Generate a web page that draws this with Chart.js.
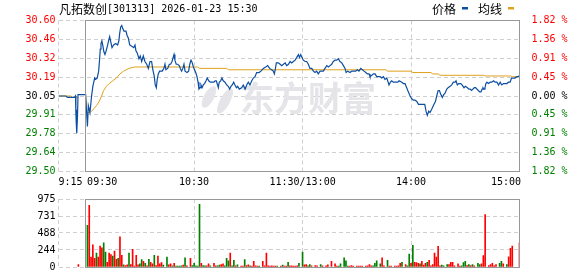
<!DOCTYPE html>
<html>
<head>
<meta charset="utf-8">
<script src="https://cdn.jsdelivr.net/npm/chart.js@4.4.1/dist/chart.umd.min.js"></script>
<style>
  html, body { margin: 0; padding: 0; background: #fff; }
  #wrap { position: relative; width: 578px; height: 276px; overflow: hidden; }
  canvas { position: absolute; left: 0; }
  #price { top: 0; }
  #vol { top: 190px; }
</style>
</head>
<body>
<div id="wrap">
  <canvas id="price" width="578" height="190"></canvas>
  <canvas id="vol" width="578" height="86"></canvas>
</div>
<script>
// ---- data (minutes from 09:30, lunch break removed; 9:15 auction = -15) ----
var stockName = '凡拓数创';
var stockInfo = '[301313] 2026-01-23 15:30';
var prevClose = 30.05;
var limitPct = 1.82;

var priceTimes = [
  -15, -11, -10, -6, -5.6, -5.4, -5.2, -5.0, -4.8, -4.5,
  -4.2, 0, 0.5, 1, 1.5, 2.4, 3.3, 4, 5, 5.5,
  6.4, 7.2, 7.7, 8.1, 8.5, 9, 9.6, 10.1, 10.7, 11.2,
  12, 12.7, 13.3, 13.8, 14.6, 15.5, 16.6, 17.7, 18.4, 18.8,
  19.4, 20, 20.5, 21.2, 22.3, 22.9, 23.6, 24.4, 25.5, 26.6,
  27.3, 27.8, 28.6, 29.5, 30.2, 31, 31.9, 32.8, 33.8, 34.7,
  35.6, 36.5, 37.2, 38, 38.5, 39.1, 39.6, 40.2, 40.9, 42.4,
  43.3, 43.9, 44.4, 45.4, 46.3, 47, 47.8, 48.9, 49.4, 50.1,
  50.9, 51.8, 52.4, 53.1, 53.8, 54.4, 55, 56.1, 57, 57.6,
  58.3, 59, 59.6, 60.9, 61.6, 62.2, 62.7, 63.3, 63.8, 64.4,
  65.1, 65.8, 66.6, 67.3, 68.1, 69, 71, 71.6, 72.3, 73,
  73.4, 73.9, 74.7, 75.4, 76.1, 77.1, 78, 78.9, 79.7, 80.4,
  81.1, 81.9, 82.6, 83.4, 84.1, 85, 86.3, 87.2, 88.2, 89.1,
  90, 90.9, 91.9, 92.8, 93.7, 94.6, 95.9, 97, 98.3, 99.6,
  100.7, 101.8, 102.9, 103.8, 104.4, 105, 105.5, 106.6, 107.6, 108.5,
  109.4, 110.4, 111.2, 112.2, 113.1, 114, 114.9, 115.9, 116.8, 117.7,
  118.3, 119, 119.6, 120.4, 121.4, 122.3, 123.2, 124.1, 125.1, 126,
  126.9, 127.8, 128.7, 129.7, 130.6, 131.5, 132.4, 133.4, 134.3, 135.2,
  136.1, 137, 138, 138.9, 139.8, 140.7, 141.7, 142.6, 143.5, 144.1,
  145, 146.3, 147.2, 148.1, 149.4, 150.3, 151.2, 152.2, 153.1, 154,
  155, 155.8, 156.8, 157.3, 158.3, 159.2, 160.1, 161, 161.9, 162.9,
  163.8, 164.7, 165.6, 166.6, 167.1, 167.8, 168.6, 169.3, 170.2, 172.7,
  173.4, 174.9, 175.8, 176.7, 177.6, 178.5, 179.5, 180.4, 181.3, 182.2,
  183.2, 184.1, 185, 187.6, 188.3, 189, 189.8, 190.5, 191.3, 192,
  192.7, 193.5, 194.2, 195, 195.7, 196.5, 197.3, 198.1, 198.8, 199.8,
  200.5, 201.6, 202.5, 203.4, 204.4, 204.9, 205.6, 206.4, 207.5, 208.2,
  209.3, 210.1, 211.2, 212, 212.7, 213.5, 214.2, 215, 215.7, 216.5,
  217.2, 218, 218.7, 219.3, 219.8, 220.4, 220.9, 221.4, 222, 222.8,
  223.8, 224.7, 225.6, 226.5, 227.5, 228.4, 229.3, 230.2, 231.1, 233,
  233.9, 234.8, 235.6, 236.4, 237.5, 238.6, 239.5, 240
];
var prices = [
  30.05, 30.05, 30.04, 30.04, 30.05, 29.93, 29.86, 29.95, 29.78, 29.90,
  30.06, 30.06, 29.94, 29.83, 29.98, 29.93, 30.05, 30.12, 30.18, 30.17,
  30.18, 30.23, 30.31, 30.39, 30.43, 30.45, 30.41, 30.37, 30.35, 30.37,
  30.41, 30.45, 30.48, 30.45, 30.40, 30.42, 30.43, 30.42, 30.45, 30.50,
  30.55, 30.56, 30.54, 30.52, 30.52, 30.49, 30.47, 30.42, 30.41, 30.40,
  30.42, 30.38, 30.36, 30.32, 30.34, 30.30, 30.34, 30.30, 30.28, 30.25,
  30.30, 30.30, 30.24, 30.19, 30.13, 30.11, 30.17, 30.21, 30.23, 30.23,
  30.25, 30.28, 30.24, 30.25, 30.28, 30.28, 30.30, 30.35, 30.31, 30.28,
  30.28, 30.27, 30.25, 30.23, 30.25, 30.28, 30.23, 30.22, 30.23, 30.28,
  30.31, 30.29, 30.26, 30.22, 30.19, 30.15, 30.10, 30.11, 30.13, 30.11,
  30.13, 30.14, 30.16, 30.18, 30.16, 30.15, 30.15, 30.16, 30.16, 30.13,
  30.11, 30.15, 30.16, 30.18, 30.16, 30.15, 30.13, 30.12, 30.10, 30.12,
  30.13, 30.15, 30.13, 30.11, 30.12, 30.10, 30.11, 30.13, 30.10, 30.13,
  30.15, 30.13, 30.16, 30.18, 30.19, 30.22, 30.22, 30.23, 30.25, 30.26,
  30.27, 30.25, 30.24, 30.23, 30.21, 30.25, 30.29, 30.29, 30.28, 30.27,
  30.28, 30.29, 30.27, 30.28, 30.30, 30.29, 30.30, 30.31, 30.33, 30.35,
  30.33, 30.35, 30.33, 30.31, 30.30, 30.30, 30.28, 30.25, 30.25, 30.23,
  30.22, 30.23, 30.21, 30.23, 30.23, 30.23, 30.25, 30.27, 30.26, 30.27,
  30.28, 30.30, 30.31, 30.31, 30.32, 30.30, 30.29, 30.27, 30.25, 30.22,
  30.23, 30.22, 30.23, 30.23, 30.23, 30.24, 30.23, 30.25, 30.24, 30.23,
  30.22, 30.21, 30.21, 30.19, 30.20, 30.21, 30.21, 30.19, 30.19, 30.19,
  30.18, 30.19, 30.17, 30.18, 30.16, 30.13, 30.15, 30.16, 30.15, 30.15,
  30.16, 30.15, 30.14, 30.14, 30.11, 30.08, 30.05, 30.03, 30.02, 30.02,
  30.01, 29.99, 29.99, 29.99, 29.94, 29.91, 29.94, 29.93, 29.95, 29.97,
  29.99, 30.01, 30.05, 30.09, 30.09, 30.06, 30.04, 30.06, 30.07, 30.10,
  30.11, 30.12, 30.13, 30.15, 30.15, 30.16, 30.13, 30.14, 30.14, 30.13,
  30.11, 30.12, 30.11, 30.10, 30.10, 30.09, 30.10, 30.11, 30.11, 30.10,
  30.09, 30.08, 30.08, 30.10, 30.11, 30.10, 30.11, 30.14, 30.15, 30.14,
  30.15, 30.15, 30.16, 30.15, 30.15, 30.13, 30.15, 30.13, 30.14, 30.14,
  30.15, 30.15, 30.18, 30.18, 30.18, 30.19, 30.19, 30.20
];

var avgTimes = [
  -15, -8, -7.5, -4.2, -4.1, 0, 0.7, 2.5, 4, 6,
  7.5, 8.8, 10, 11.5, 13, 15, 17, 19, 21, 24,
  27, 62, 63, 78, 79, 166, 167, 180, 181, 191,
  192, 195, 196, 220, 221, 235, 236, 240
];
var avgPrices = [
  30.05, 30.05, 30.04, 30.04, null, 30.06, 29.93, 29.93, 29.95, 29.98,
  30.01, 30.05, 30.09, 30.12, 30.14, 30.16, 30.18, 30.21, 30.23, 30.25,
  30.26, 30.26, 30.25, 30.25, 30.24, 30.24, 30.23, 30.23, 30.22, 30.22,
  30.21, 30.21, 30.20, 30.20, 30.195, 30.195, 30.19, 30.19
];

var volTimes = [
  -4, 1, 2, 3, 4, 5, 6, 7, 8, 9,
  10, 11, 12, 13, 14, 15, 16, 17, 18, 19,
  20, 21, 22, 23, 24, 25, 26, 27, 28, 29,
  30, 31, 32, 33, 34, 35, 36, 37, 38, 39,
  40, 41, 42, 43, 45, 46, 47, 48, 49, 50,
  51, 52, 53, 54, 55, 56, 58, 59, 60, 61,
  62, 63, 64, 65, 66, 67, 68, 69, 71, 72,
  73, 74, 75, 76, 77, 78, 79, 80, 81, 82,
  83, 84, 86, 87, 88, 89, 90, 91, 92, 93,
  94, 95, 96, 98, 99, 100, 101, 102, 103, 104,
  105, 106, 108, 109, 110, 111, 112, 113, 114, 115,
  116, 117, 118, 120, 121, 122, 123, 124, 125, 127,
  128, 130, 131, 133, 134, 136, 138, 139, 140, 141,
  143, 144, 145, 146, 147, 148, 150, 151, 152, 153,
  155, 156, 157, 158, 159, 160, 161, 163, 164, 165,
  167, 168, 169, 171, 172, 173, 174, 175, 177, 178,
  179, 180, 181, 182, 183, 184, 185, 186, 187, 188,
  189, 190, 191, 192, 193, 194, 195, 196, 197, 198,
  200, 201, 202, 203, 204, 206, 207, 208, 209, 210,
  211, 212, 213, 214, 215, 217, 218, 219, 220, 221,
  223, 224, 225, 226, 227, 229, 230, 231, 233, 234,
  235, 236, 240
];
var volumes = [
  35, 598, 886, 142, 319, 124, 199, 142, 301, 275,
  346, 213, 66, 199, 177, 155, 230, 111, 124, 434,
  168, 31, 22, 31, 199, 35, 252, 13, 168, 31,
  44, 106, 80, 53, 18, 111, 66, 44, 168, 22,
  155, 44, 62, 27, 142, 31, 44, 18, 53, 13,
  13, 13, 18, 27, 133, 18, 124, 22, 53, 18,
  13, 900, 53, 22, 18, 18, 44, 18, 53, 18,
  18, 27, 35, 44, 18, 124, 89, 199, 18, 97,
  18, 31, 13, 13, 106, 22, 31, 18, 13, 80,
  18, 13, 13, 80, 18, 199, 18, 13, 18, 13,
  13, 13, 13, 27, 13, 13, 66, 18, 18, 13,
  13, 18, 53, 213, 31, 35, 18, 35, 18, 22,
  18, 35, 18, 18, 31, 80, 44, 13, 13, 44,
  133, 89, 13, 13, 22, 13, 13, 13, 13, 13,
  13, 18, 35, 18, 18, 53, 89, 44, 133, 18,
  97, 13, 13, 13, 13, 18, 53, 66, 35, 18,
  186, 53, 310, 66, 62, 53, 44, 80, 27, 53,
  66, 97, 18, 35, 199, 142, 297, 18, 27, 18,
  35, 35, 66, 66, 18, 44, 13, 18, 62, 80,
  22, 35, 22, 35, 18, 53, 35, 44, 164, 753,
  22, 35, 53, 18, 35, 53, 80, 44, 35, 146,
  266, 301, 346
];
// 1 = price up in that minute (red), 0 = down (green)
var volUp = [
  1, 0, 1, 1, 1, 1, 0, 1, 1, 1,
  0, 0, 1, 1, 1, 0, 1, 1, 0, 1,
  1, 0, 1, 1, 0, 1, 1, 1, 1, 1,
  0, 0, 1, 0, 1, 0, 1, 1, 0, 1,
  1, 1, 1, 0, 0, 1, 1, 0, 1, 0,
  0, 0, 0, 1, 0, 1, 1, 0, 0, 0,
  0, 0, 1, 0, 0, 1, 1, 0, 1, 1,
  0, 0, 1, 1, 0, 0, 0, 1, 0, 0,
  1, 0, 1, 1, 0, 1, 1, 0, 1, 1,
  1, 1, 0, 1, 1, 1, 1, 1, 1, 1,
  1, 0, 1, 0, 1, 1, 0, 1, 1, 1,
  1, 1, 0, 0, 1, 1, 0, 0, 1, 1,
  1, 0, 1, 1, 1, 1, 1, 1, 0, 0,
  0, 0, 0, 1, 1, 1, 1, 1, 1, 1,
  1, 1, 1, 1, 0, 0, 0, 0, 1, 1,
  0, 1, 1, 1, 1, 1, 1, 0, 1, 0,
  0, 1, 0, 1, 1, 1, 0, 1, 1, 1,
  0, 1, 1, 1, 1, 1, 1, 1, 0, 0,
  0, 1, 1, 1, 1, 1, 1, 0, 0, 0,
  1, 0, 1, 0, 1, 0, 0, 1, 1, 1,
  1, 1, 1, 1, 1, 0, 0, 1, 0, 1,
  1, 1, 1
];

var priceTickLabels = ['29.50', '29.64', '29.78', '29.91', '30.05', '30.19', '30.32', '30.46', '30.60'];
var pctTickLabels = ['1.82 %', '1.36 %', '0.91 %', '0.45 %', '0.00 %', '0.45 %', '0.91 %', '1.36 %', '1.82 %'];
var volTickValues = [0, 244, 488, 731, 975];
var volTickLabels = ['0', '244', '488', '731', '975'];
var xLabelMinutes = [-15, 0, 60, 120, 180, 240];
var xLabels = ['9:15', '09:30', '10:30', '11:30/13:00', '14:00', '15:00'];
var xGridMinutes = [-15, 60, 120, 180];

// ---- look ----
var RED = '#ff0000', GREEN = '#008000', BLUE = '#0c4ea2', GOLD = '#e0a11c';
var GRID = '#cfcfcf', FRAME = '#979797';
var MONO = '"DejaVu Sans Mono", monospace';
var CJK = '"Noto Sans CJK SC", sans-serif';
var xLabelAlign = ['left', 'left', 'center', 'center', 'center', 'right'];
var xLabelShift = [0, 1.5, 0, 0, 0, 1.5];

Chart.defaults.font.family = MONO;
Chart.defaults.font.size = 10;
Chart.defaults.color = '#000';

var yMin = prevClose * (1 - limitPct / 100);
var yMax = prevClose * (1 + limitPct / 100);
var priceTickValues = priceTickLabels.map(function (_, i) { return yMin + i * (yMax - yMin) / 8; });

function tickColor(i) {
  if (i < 4) return GREEN;
  if (i === 4) return '#000';
  return RED;
}

function setTicks(values) {
  return function (scale) {
    scale.ticks = values.map(function (v) { return { value: v }; });
  };
}

var frame = {
  id: 'frame',
  beforeDatasetsDraw: function (chart, args, opts) {
    if (!opts.watermark) return;
    var ctx = chart.ctx;
    ctx.save();
    ctx.fillStyle = '#e4e4e9';
    ctx.beginPath();
    ctx.ellipse(209, 97, 5, 12, 0.5, 0, Math.PI * 2);
    ctx.fill();
    ctx.beginPath();
    ctx.ellipse(225, 101, 5, 14, 0.5, 0, Math.PI * 2);
    ctx.fill();
    ctx.font = 'bold 34px ' + CJK;
    ctx.textBaseline = 'middle';
    ctx.fillText('东方财富', 240, 98);
    ctx.restore();
  },
  afterDatasetsDraw: function (chart, args, opts) {
    var ctx = chart.ctx;
    var xs = chart.scales.x;
    var a = chart.chartArea;
    var x0 = Math.floor(xs.getPixelForValue(0)) + 0.5;
    var x1 = Math.floor(xs.getPixelForValue(240)) + 0.5;
    var top = Math.floor(a.top) + 0.5;
    var bottom = Math.floor(a.bottom) + 0.5;
    ctx.save();
    ctx.strokeStyle = FRAME;
    ctx.lineWidth = 1;
    ctx.strokeRect(x0, top, x1 - x0, bottom - top);

    if (opts.xLabels) {
      ctx.fillStyle = '#000';
      ctx.font = '10px ' + MONO;
      ctx.textBaseline = 'middle';
      xLabels.forEach(function (lab, i) {
        ctx.textAlign = xLabelAlign[i];
        ctx.fillText(lab, xs.getPixelForValue(xLabelMinutes[i]) + xLabelShift[i], 182);
      });
    }

    if (opts.header) {
      ctx.textAlign = 'left';
      ctx.textBaseline = 'middle';
      ctx.fillStyle = '#000';
      ctx.font = '12px ' + CJK;
      ctx.fillText(stockName, 59, 9);
      ctx.font = '10px ' + MONO;
      ctx.fillText(stockInfo, 107, 9);

      ctx.font = '12px ' + CJK;
      ctx.fillText(chart.data.datasets[0].label, 432, 9.5);
      ctx.fillStyle = BLUE;
      ctx.fillRect(462, 7, 6, 2.5);
      ctx.fillStyle = '#000';
      ctx.fillText(chart.data.datasets[1].label, 478, 9.5);
      ctx.fillStyle = GOLD;
      ctx.fillRect(508, 7, 6, 2.5);
    }
    ctx.restore();
  }
};

var gridOpts = { color: GRID, lineWidth: 1, drawTicks: false, offset: false };
var borderOpts = { display: false, dash: [4, 3] };

new Chart(document.getElementById('price'), {
  type: 'line',
  data: {
    datasets: [
      {
        label: '价格',
        data: priceTimes.map(function (t, i) { return { x: t, y: prices[i] }; }),
        borderColor: BLUE,
        borderWidth: 1.2,
        pointRadius: 0,
        tension: 0,
        order: 1
      },
      {
        label: '均线',
        data: avgTimes.map(function (t, i) { return { x: t, y: avgPrices[i] }; }),
        borderColor: GOLD,
        borderWidth: 1,
        pointRadius: 0,
        tension: 0,
        spanGaps: false,
        order: 2
      }
    ]
  },
  options: {
    responsive: false,
    animation: false,
    devicePixelRatio: 1,
    layout: { padding: { top: 20.5, left: 0, right: 0, bottom: 0 } },
    plugins: {
      legend: { display: false },
      tooltip: { enabled: false },
      frame: { watermark: true, xLabels: true, header: true }
    },
    scales: {
      x: {
        type: 'linear', min: -15, max: 240,
        afterBuildTicks: setTicks(xGridMinutes),
        afterFit: function (s) { s.height = 18.5; },
        ticks: { display: false },
        grid: gridOpts,
        border: borderOpts
      },
      y: {
        type: 'linear', position: 'left', min: yMin, max: yMax,
        afterBuildTicks: setTicks(priceTickValues),
        afterFit: function (s) { s.width = 58.5; },
        ticks: {
          autoSkip: false, padding: 3,
          callback: function (v, i) { return priceTickLabels[i]; },
          color: function (c) { return tickColor(c.index); }
        },
        grid: gridOpts,
        border: borderOpts
      },
      y2: {
        type: 'linear', position: 'right', min: yMin, max: yMax,
        afterBuildTicks: setTicks(priceTickValues),
        afterFit: function (s) { s.width = 58.5; },
        ticks: {
          autoSkip: false, padding: 4,
          callback: function (v, i) { return pctTickLabels[i]; },
          color: function (c) { return tickColor(c.index); }
        },
        grid: { display: false },
        border: { display: false }
      }
    }
  },
  plugins: [frame]
});

new Chart(document.getElementById('vol'), {
  type: 'bar',
  data: {
    datasets: [{
      data: volTimes.map(function (t, i) { return { x: t, y: volumes[i] }; }),
      backgroundColor: volUp.map(function (u) { return u ? RED : GREEN; }),
      borderWidth: 0,
      barThickness: 1
    }]
  },
  options: {
    responsive: false,
    animation: false,
    devicePixelRatio: 1,
    layout: { padding: { top: 6.5, left: 0, right: 58.5, bottom: 0 } },
    plugins: {
      legend: { display: false },
      tooltip: { enabled: false },
      frame: {}
    },
    scales: {
      x: {
        type: 'linear', min: -15, max: 240, offset: false,
        afterBuildTicks: setTicks(xGridMinutes),
        afterFit: function (s) { s.height = 5.5; },
        ticks: { display: false },
        grid: gridOpts,
        border: borderOpts
      },
      y: {
        type: 'linear', min: 0, max: 975,
        afterBuildTicks: setTicks(volTickValues),
        afterFit: function (s) { s.width = 58.5; },
        ticks: {
          autoSkip: false, padding: 3,
          callback: function (v, i) { return volTickLabels[i]; }
        },
        grid: gridOpts,
        border: borderOpts
      }
    }
  },
  plugins: [frame]
});
</script>
</body>
</html>
